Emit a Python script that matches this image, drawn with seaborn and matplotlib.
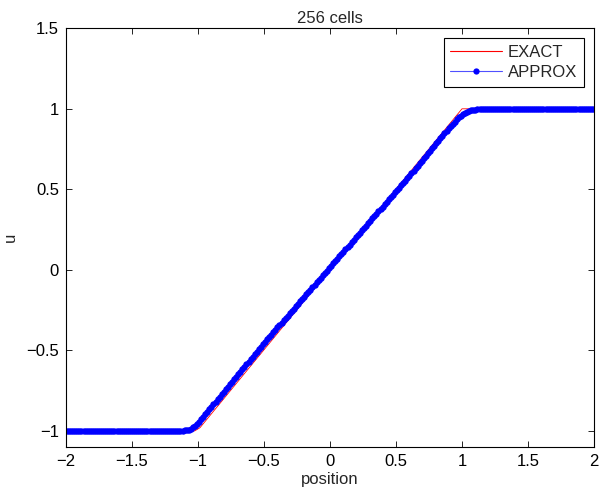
import numpy as np
import pandas as pd
import matplotlib
matplotlib.use('Agg')
import matplotlib.pyplot as plt
from matplotlib.lines import Line2D
import seaborn as sns

# ------------------------------
# Data
# ------------------------------
n_cells = 256
x_lo, x_hi = -2.0, 2.0

# exact solution knots
exact_x = [-2.0, -1.025, -0.985, 1.0, 2.0]
exact_u = [-1.0, -1.0, -0.98, 1.0, 1.0]

# approximate solution, one value per cell
approx_left = [-1.0] * 54
approx_mid = [
    -1.000, -0.999, -0.999, -0.997, -0.995, -0.992, -0.986, -0.978,
    -0.968, -0.956, -0.943, -0.928, -0.913, -0.898, -0.882, -0.867,
    -0.851, -0.836, -0.820, -0.805, -0.789, -0.773, -0.758, -0.742,
    -0.726, -0.711, -0.695, -0.680, -0.664, -0.648, -0.633, -0.617,
    -0.601, -0.586, -0.570, -0.555, -0.539, -0.523, -0.508, -0.492,
    -0.476, -0.461, -0.446, -0.431, -0.416, -0.402, -0.387, -0.372,
    -0.357, -0.343, -0.328, -0.313, -0.299, -0.284, -0.269, -0.255,
    -0.240, -0.225, -0.210, -0.196, -0.181, -0.166, -0.152, -0.137,
    -0.122, -0.108, -0.093, -0.078, -0.063, -0.049, -0.034, -0.019,
    -0.005, 0.010, 0.025, 0.040, 0.054, 0.069, 0.084, 0.098,
    0.113, 0.128, 0.143, 0.157, 0.172, 0.187, 0.201, 0.216,
    0.231, 0.245, 0.260, 0.275, 0.290, 0.304, 0.319, 0.334,
    0.348, 0.363, 0.378, 0.392, 0.407, 0.422, 0.437, 0.451,
    0.466, 0.481, 0.495, 0.510, 0.525, 0.539, 0.554, 0.569,
    0.584, 0.599, 0.615, 0.630, 0.646, 0.662, 0.677, 0.693,
    0.709, 0.724, 0.740, 0.755, 0.771, 0.787, 0.802, 0.818,
    0.833, 0.848, 0.864, 0.878, 0.893, 0.908, 0.921, 0.934,
    0.947, 0.957, 0.967, 0.975, 0.981, 0.987, 0.990, 0.993,
    0.995, 0.997, 0.998, 0.998,
]
approx_right = [1.0] * 54
approx_u = approx_left + approx_mid + approx_right

# cell centres
dx = (x_hi - x_lo) / n_cells
approx_x = x_lo + dx * (np.arange(n_cells) + 0.5)

df_exact = pd.DataFrame({'position': exact_x, 'u': exact_u})
df_approx = pd.DataFrame({'position': approx_x, 'u': approx_u})

# ------------------------------
# Plot
# ------------------------------
sns.set_style('ticks')
plt.rcParams['font.family'] = ['Liberation Sans', 'DejaVu Sans']
plt.rcParams['font.size'] = 12

fig = plt.figure(figsize=(6, 4.91), dpi=100)
ax = fig.add_axes([0.11, 0.0896, 0.88, 0.8528])

sns.lineplot(data=df_exact, x='position', y='u', ax=ax, color='#ff0000',
             linewidth=0.6, estimator=None, sort=False, legend=False)
sns.lineplot(data=df_approx, x='position', y='u', ax=ax, color='#0000ff',
             linewidth=0.6, marker='o', markersize=4.6, markeredgewidth=0,
             estimator=None, sort=False, legend=False)

ax.set_xlim(-2, 2)
ax.set_ylim(-1.1, 1.5)
ax.set_xticks([-2, -1.5, -1, -0.5, 0, 0.5, 1, 1.5, 2])
ax.set_xticklabels(['\u22122', '\u22121.5', '\u22121', '\u22120.5', '0', '0.5', '1', '1.5', '2'])
ax.set_yticks([-1, -0.5, 0, 0.5, 1, 1.5])
ax.set_yticklabels(['\u22121', '\u22120.5', '0', '0.5', '1', '1.5'])
ax.tick_params(direction='in', length=4, width=0.6, top=True, right=True,
               labelsize=12, colors='black', pad=5)
for s in ax.spines.values():
    s.set_visible(True)
    s.set_linewidth(0.8)
    s.set_color('black')

ax.set_title('256 cells', fontsize=12, pad=4)
ax.set_xlabel('position', fontsize=12, labelpad=2)
ax.set_ylabel('u', fontsize=12, labelpad=6)

handles = [
    Line2D([], [], color='#ff0000', linewidth=0.8),
    Line2D([], [], color='#5050ff', linewidth=0.8, marker='o',
           markersize=4.5, markerfacecolor='#0000ff', markeredgewidth=0),
]
leg = ax.legend(handles, ['EXACT', 'APPROX'], loc='upper right',
                fancybox=False, edgecolor='black', framealpha=1,
                fontsize=12, handlelength=3.1, handletextpad=0.35,
                borderaxespad=0.6, borderpad=0.4, labelspacing=0.3)
leg.get_frame().set_linewidth(0.8)

plt.savefig('out.png', dpi=100)
